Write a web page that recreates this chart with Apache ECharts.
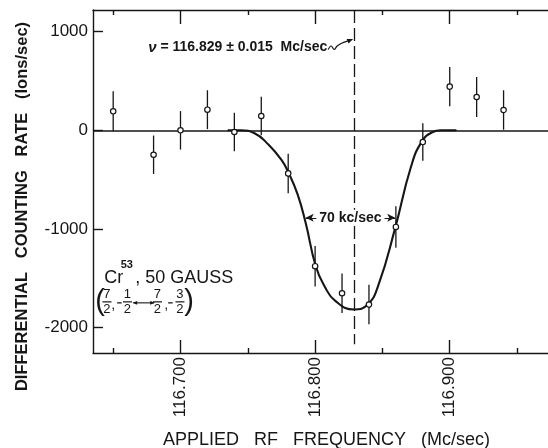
<!DOCTYPE html>
<html>
<head>
<meta charset="utf-8">
<script src="https://cdn.jsdelivr.net/npm/echarts@6/dist/echarts.min.js"></script>
<style>
html,body{margin:0;padding:0;background:#fff}
#chart{width:548px;height:448px}
</style>
</head>
<body>
<div id="chart"></div>
<script>
// measured points (Mc/sec, ions/sec) with their error half-widths
var freqs = [116.65,116.68,116.70,116.72,116.74,116.76,116.78,116.80,116.82,116.84,116.86,116.88,116.90,116.92,116.94];
var rates = [193,-248,0,209,-17,145,-437,-1378,-1652,-1767,-980,-119,443,338,206];
var errs  = [203,195,195,197,195,196,200,205,200,200,210,190,200,203,200];

// fitted curve
var fitFreqs = [116.735,116.745,116.755,116.765,116.775,116.7805,116.787,116.793,116.8005,116.807,116.815,116.829,116.839,116.847,116.8595,116.871,116.879,116.887,116.8935,116.905];
var fitRates = [0,0,-30,-140,-300,-437,-650,-940,-1378,-1581,-1730,-1817,-1767,-1570,-989,-380,-120,-20,0,0];

var xMajor = [116.7,116.8,116.9];
var xMinor = [116.65,116.75,116.85,116.95];
var yTicks = [-2000,-1000,0,1000];

var resonance = 116.829;
var halfWidthEnds = [116.793,116.8595];
var halfLevel = -887;

var xMin = 116.635, xMax = 116.973;
var yMin = -2258, yMax = 1220;

var ink = '#161616';
var font = '"Liberation Sans", Arial, sans-serif';

var chart = echarts.init(document.getElementById('chart'));

var pointData = freqs.map(function(f,i){ return [f, rates[i], errs[i]]; });
var fitData = fitFreqs.map(function(f,i){ return [f, fitRates[i]]; });

function renderErr(params, api){
  var x = api.value(0), y = api.value(1), e = api.value(2);
  var c = api.coord([x,y]);
  var hi = api.coord([x,y+e]);
  var lo = api.coord([x,y-e]);
  return {type:'group', children:[
    {type:'line', shape:{x1:c[0],y1:hi[1],x2:c[0],y2:lo[1]}, style:{stroke:ink,lineWidth:1.3}},
    {type:'circle', shape:{cx:c[0],cy:c[1],r:2.7}, style:{fill:'#fff',stroke:ink,lineWidth:1.2}}
  ]};
}

function xAx(pos, ticks, len, showLine, showLabel){
  return {
    type:'value', min:xMin, max:xMax, position:pos,
    axisLine:{show:showLine, onZero:false, lineStyle:{color:ink,width:1.4}},
    axisTick:{show:true, inside:true, length:len, customValues:ticks, lineStyle:{color:ink,width:1.4}},
    axisLabel:{show:showLabel, customValues:ticks, rotate:90, margin:4,
      formatter:function(v){ return v.toFixed(3); },
      fontSize:17, fontFamily:font, color:ink},
    splitLine:{show:false}
  };
}

var bottomMajor = xAx('bottom', xMajor, 13, true, true);
bottomMajor.name = 'APPLIED   RF   FREQUENCY   (Mc/sec)';
bottomMajor.nameLocation = 'middle';
bottomMajor.nameGap = 78;
bottomMajor.nameTextStyle = {fontSize:18, fontFamily:font, color:ink, padding:[0,0,0,12]};

chart.setOption({
  animation:false,
  backgroundColor:'#fff',
  grid:{left:93, top:10, right:0, bottom:95, containLabel:false, outerBoundsMode:'none'},
  xAxis:[
    bottomMajor,
    xAx('bottom', xMinor, 5, false, false),
    xAx('top', xMajor, 14, true, false),
    xAx('top', xMinor, 5, false, false)
  ],
  yAxis:{
    type:'value', min:yMin, max:yMax,
    axisLine:{show:true, lineStyle:{color:ink,width:1.4}},
    axisTick:{show:true, inside:true, length:10, customValues:yTicks, lineStyle:{color:ink,width:1.4}},
    axisLabel:{customValues:yTicks, margin:5, fontSize:17, fontFamily:font, color:ink,
      formatter:function(v){ return String(v); }},
    splitLine:{show:false},
    name:'DIFFERENTIAL   COUNTING   RATE   (Ions/sec)',
    nameLocation:'middle', nameGap:62,
    nameTextStyle:{fontSize:16.5, fontWeight:'bold', fontFamily:font, color:ink, padding:[0,50,0,0]}
  },
  series:[
    {
      type:'line', data:fitData, xAxisIndex:0, smooth:0.5,
      showSymbol:false, lineStyle:{color:ink,width:2.1}, z:3,
      markLine:{
        silent:true, symbol:'none', animation:false,
        data:[
          {yAxis:0, lineStyle:{color:ink,width:1.5,type:'solid'}, label:{show:false}},
          [
            {coord:[resonance,yMax], symbol:'none', lineStyle:{color:ink,width:1.3,type:[13,5]}, label:{show:false}},
            {coord:[resonance,-2170], symbol:'none'}
          ],
          [
            {coord:[halfWidthEnds[0],halfLevel], symbol:'arrow', symbolSize:[6,8],
             lineStyle:{color:ink,width:1.2,type:'solid'},
             label:{show:true, position:'middle', distance:0, verticalAlign:'middle',
                    formatter:'70 kc/sec', backgroundColor:'#fff', padding:[1,3],
                    fontSize:14, fontWeight:'bold', fontFamily:font, color:ink}},
            {coord:[halfWidthEnds[1],halfLevel], symbol:'arrow', symbolSize:[6,8]}
          ]
        ]
      }
    },
    {
      type:'custom', data:pointData, xAxisIndex:0, renderItem:renderErr, z:5
    }
  ]
});

// annotations anchored to data coordinates
var nuAt = chart.convertToPixel({gridIndex:0}, [116.676, 840]);
var resAt = chart.convertToPixel({gridIndex:0}, [resonance, 840]);
var crAt = chart.convertToPixel({gridIndex:0}, [116.6433, -1563]);

function frac(cx, num, den){
  return [
    {type:'text', x:cx, y:9.7, style:{text:num, fontSize:13, fontFamily:font, fill:ink, align:'center', verticalAlign:'middle'}},
    {type:'line', shape:{x1:cx-4.5, y1:17.4, x2:cx+4.5, y2:17.4}, style:{stroke:ink, lineWidth:1.2}},
    {type:'text', x:cx, y:25, style:{text:den, fontSize:13, fontFamily:font, fill:ink, align:'center', verticalAlign:'middle'}}
  ];
}

var crKids = [
  {type:'text', x:0, y:-6.5, style:{text:'Cr', fontSize:18, fontFamily:font, fill:ink, verticalAlign:'middle'}},
  {type:'text', x:16.5, y:-19, style:{text:'53', fontSize:11, fontWeight:'bold', fontFamily:font, fill:ink, verticalAlign:'middle'}},
  {type:'text', x:31, y:-6.5, style:{text:', 50 GAUSS', fontSize:18, fontFamily:font, fill:ink, verticalAlign:'middle'}},
  {type:'text', x:-9, y:17.5, style:{text:'(', fontSize:29, fontFamily:font, fill:ink, verticalAlign:'middle'}},
  {type:'text', x:7, y:21, style:{text:',', fontSize:14, fontFamily:font, fill:ink, verticalAlign:'middle'}},
  {type:'line', shape:{x1:13, y1:18.4, x2:17.5, y2:18.4}, style:{stroke:ink, lineWidth:1.3}},
  {type:'line', shape:{x1:29, y1:18.4, x2:50, y2:18.4}, style:{stroke:ink, lineWidth:1.1}},
  {type:'polygon', shape:{points:[[28.5,18.4],[33,16.6],[33,20.2]]}, style:{fill:ink}},
  {type:'polygon', shape:{points:[[50.5,18.4],[46,16.6],[46,20.2]]}, style:{fill:ink}},
  {type:'text', x:60, y:21, style:{text:',', fontSize:14, fontFamily:font, fill:ink, verticalAlign:'middle'}},
  {type:'line', shape:{x1:64, y1:18.4, x2:68.5, y2:18.4}, style:{stroke:ink, lineWidth:1.3}},
  {type:'text', x:80, y:17.5, style:{text:')', fontSize:29, fontFamily:font, fill:ink, verticalAlign:'middle'}}
]
  .concat(frac(2.8,'7','2'))
  .concat(frac(23.3,'1','2'))
  .concat(frac(53.3,'7','2'))
  .concat(frac(75.8,'3','2'));

chart.setOption({
  graphic:[
    {type:'text', x:nuAt[0], y:nuAt[1], z:10,
     style:{text:'{nu|ν} = 116.829 ± 0.015  Mc/sec',
            rich:{nu:{fontStyle:'italic', fontWeight:'bold', fontSize:15, fontFamily:font, fill:ink}},
            fontSize:14, fontWeight:'bold', fontFamily:font, fill:ink, verticalAlign:'middle'}},
    {type:'group', x:resAt[0], y:resAt[1], z:10, children:[
      {type:'polyline', shape:{points:[[-26,2],[-23,-1.5],[-20,2],[-17,-1.5],[-13,-4],[-6,-6.6]], smooth:0.4},
       style:{stroke:ink, lineWidth:1.2, fill:null}},
      {type:'polygon', shape:{points:[[-1,-8.5],[-5.6,-3.9],[-7.5,-8.5]]}, style:{fill:ink}}
    ]},
    {type:'group', x:crAt[0], y:crAt[1], z:10, children:crKids}
  ]
});
</script>
</body>
</html>
